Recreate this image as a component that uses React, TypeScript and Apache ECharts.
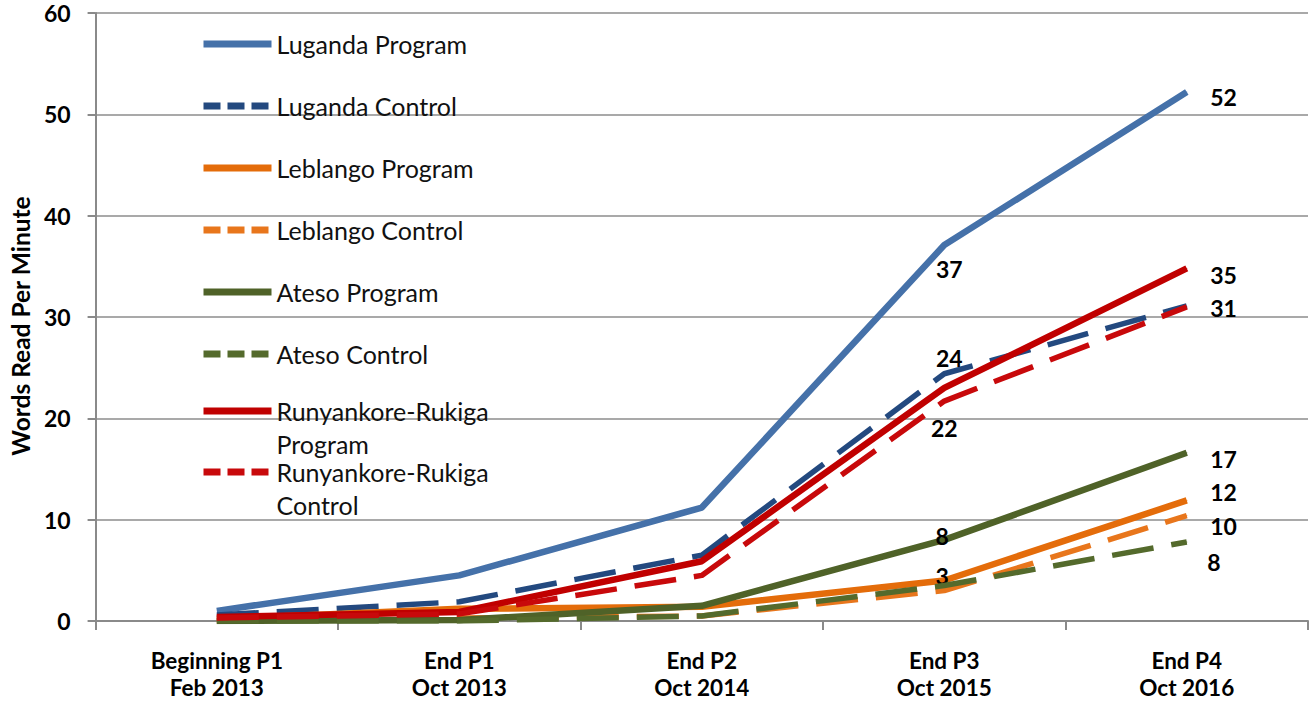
import React, { useEffect, useRef } from 'react';
import * as echarts from 'echarts';

const categories = [
  'Beginning P1\nFeb 2013',
  'End P1\nOct 2013',
  'End P2\nOct 2014',
  'End P3\nOct 2015',
  'End P4\nOct 2016',
];

const yTicks = { min: 0, max: 60, interval: 10 };

const lugandaProgram = [1.0, 4.5, 11.2, 37.1, 52.2];
const lugandaControl = [0.6, 1.9, 6.5, 24.4, 31.1];
const leblangoProgram = [0.2, 1.2, 1.4, 4.0, 11.9];
const leblangoControl = [0.0, 0.3, 0.5, 3.0, 10.4];
const atesoProgram = [0.0, 0.1, 1.5, 8.0, 16.6];
const atesoControl = [0.0, 0.0, 0.5, 3.5, 7.8];
const rrProgram = [0.4, 0.9, 5.9, 23.0, 34.8];
const rrControl = [0.3, 0.7, 4.5, 21.7, 31.0];

const seriesNames = [
  'Luganda Program',
  'Luganda Control',
  'Leblango Program',
  'Leblango Control',
  'Ateso Program',
  'Ateso Control',
  'Runyankore-Rukiga Program',
  'Runyankore-Rukiga Control',
];
const seriesValues = [
  lugandaProgram,
  lugandaControl,
  leblangoProgram,
  leblangoControl,
  atesoProgram,
  atesoControl,
  rrProgram,
  rrControl,
];
const seriesColors = ['#4571A9', '#23497F', '#E46C0A', '#E8761C', '#4F6228', '#546A2C', '#C00000', '#C8090B'];
const seriesDashed = [false, true, false, true, false, true, false, true];

// which points carry a data label, and where it sits
const labelSpecs: any[] = [
  { 3: { position: 'bottom', distance: 12, offset: [5, 0] }, 4: { position: 'right', distance: 23, offset: [0, 5] } },
  { 3: { position: 'top', distance: 4, offset: [5, 0] } },
  { 4: { position: 'right', distance: 23, offset: [0, -8] } },
  { 3: { position: 'top', distance: 3, offset: [-2, 0] }, 4: { position: 'right', distance: 23, offset: [0, 10] } },
  { 3: { position: 'inside', offset: [-2, -4] }, 4: { position: 'right', distance: 23, offset: [0, 6] } },
  { 4: { position: 'right', distance: 20, offset: [0, 20] } },
  { 4: { position: 'right', distance: 23, offset: [0, 7] } },
  { 3: { position: 'bottom', distance: 15, offset: [0, 0] }, 4: { position: 'right', distance: 23, offset: [0, 1] } },
];

const legendCenters = [44, 106, 168, 230, 292, 354, 411, 472];

const FONT = 'Lato';

function buildOption() {
  const series = seriesNames.map((name, si) => ({
    name,
    type: 'line',
    symbol: 'none',
    z: 2 + si,
    lineStyle: {
      color: seriesColors[si],
      width: seriesDashed[si] ? 5.5 : 6.5,
      type: seriesDashed[si] ? [42, 18] : 'solid',
      join: 'round',
    },
    itemStyle: { color: seriesColors[si] },
    data: seriesValues[si].map((v, i) => {
      const spec = labelSpecs[si][i];
      if (!spec) return v;
      return {
        value: v,
        symbol: 'circle',
        symbolSize: 1,
        label: {
          show: true,
          ...spec,
          formatter: (p: any) => String(Math.round(p.value)),
          fontFamily: FONT,
          fontWeight: 'bold',
          fontSize: 23,
          color: '#000',
        },
      };
    }),
  }));

  const legends = seriesNames.map((name, si) => {
    const twoLine = name.startsWith('Runyankore');
    const lh = twoLine ? 33 : 30;
    return {
      show: true,
      data: [name],
      left: 200,
      top: legendCenters[si] - (twoLine ? lh * 1.5 : lh / 2),
      orient: 'vertical',
      padding: 0,
      itemGap: 0,
      itemWidth: 68,
      itemHeight: 2,
      selectedMode: false,
      formatter: (n: string) => (twoLine ? '\n' + n.replace('Rukiga ', 'Rukiga\n') : n),
      itemStyle: { opacity: 0 },
      lineStyle: { width: 7, type: seriesDashed[si] ? [17, 7] : 'solid', color: seriesColors[si] },
      textStyle: {
        fontFamily: FONT,
        fontSize: 25,
        color: '#111',
        lineHeight: lh,
      },
    };
  });

  return {
    animation: false,
    backgroundColor: '#fff',
    grid: { left: 92, right: 4, top: 13, bottom: 78, containLabel: false },
    legend: legends,
    xAxis: {
      type: 'category',
      data: categories,
      boundaryGap: true,
      axisLine: { show: true, lineStyle: { color: '#8a8a8a', width: 2 } },
      axisTick: { show: true, length: 9, interval: 0, lineStyle: { color: '#8a8a8a', width: 2 } },
      axisLabel: {
        interval: 0,
        margin: 26,
        fontFamily: FONT,
        fontWeight: 'bold',
        fontSize: 22.5,
        lineHeight: 27,
        color: '#000',
      },
      splitLine: { show: false },
    },
    yAxis: {
      type: 'value',
      min: yTicks.min,
      max: yTicks.max,
      interval: yTicks.interval,
      name: 'Words Read Per Minute',
      nameLocation: 'middle',
      nameGap: 58,
      nameTextStyle: {
        fontFamily: FONT,
        fontWeight: 'bold',
        fontSize: 24.5,
        color: '#000',
        padding: [0, 18, 0, 0],
      },
      axisLine: { show: true, lineStyle: { color: '#8a8a8a', width: 2 } },
      axisTick: { show: true, length: 8, lineStyle: { color: '#8a8a8a', width: 2 } },
      axisLabel: { margin: 25, fontFamily: FONT, fontWeight: 'bold', fontSize: 23, color: '#000' },
      splitLine: { show: true, lineStyle: { color: '#8c8c8c', width: 1.5 } },
    },
    series,
  };
}

export default function App() {
  const ref = useRef<HTMLDivElement>(null);
  useEffect(() => {
    const chart = echarts.init(ref.current!, null, { renderer: 'svg' });
    chart.setOption(buildOption() as any);
    return () => chart.dispose();
  }, []);
  return (
    <div
      ref={ref}
      style={{ position: 'fixed', left: 0, top: 0, width: 1312, height: 701, background: '#fff' }}
    />
  );
}
